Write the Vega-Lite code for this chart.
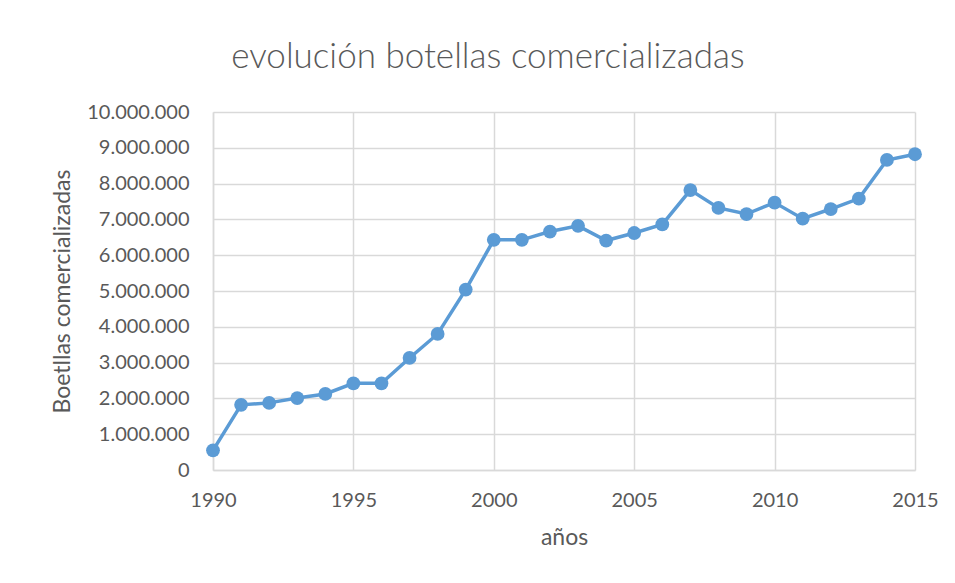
{
  "$schema": "https://vega.github.io/schema/vega-lite/v6.json",
  "width": 702,
  "height": 358,
  "autosize": {"type": "none"},
  "padding": {"left": 213, "top": 112, "right": 40, "bottom": 113},
  "background": "white",
  "config": {
    "locale": {"number": {"decimal": ",", "thousands": ".", "grouping": [3], "currency": ["", "€"]}},
    "view": {"stroke": null},
    "font": "Lato"
  },
  "title": {
    "text": "evolución botellas comercializadas",
    "font": "Lato",
    "fontSize": 35,
    "fontWeight": 300,
    "color": "#595959",
    "anchor": "middle",
    "dx": -76,
    "offset": 27
  },
  "data": {
    "values": [
      {"year": 1990, "v": 550000},
      {"year": 1991, "v": 1820000},
      {"year": 1992, "v": 1875000},
      {"year": 1993, "v": 2010000},
      {"year": 1994, "v": 2125000},
      {"year": 1995, "v": 2420000},
      {"year": 1996, "v": 2420000},
      {"year": 1997, "v": 3130000},
      {"year": 1998, "v": 3800000},
      {"year": 1999, "v": 5040000},
      {"year": 2000, "v": 6430000},
      {"year": 2001, "v": 6430000},
      {"year": 2002, "v": 6660000},
      {"year": 2003, "v": 6820000},
      {"year": 2004, "v": 6410000},
      {"year": 2005, "v": 6620000},
      {"year": 2006, "v": 6860000},
      {"year": 2007, "v": 7820000},
      {"year": 2008, "v": 7320000},
      {"year": 2009, "v": 7150000},
      {"year": 2010, "v": 7470000},
      {"year": 2011, "v": 7020000},
      {"year": 2012, "v": 7290000},
      {"year": 2013, "v": 7580000},
      {"year": 2014, "v": 8660000},
      {"year": 2015, "v": 8820000}
    ]
  },
  "encoding": {
    "x": {
      "field": "year",
      "type": "quantitative",
      "scale": {"domain": [1990, 2015], "nice": false, "zero": false},
      "axis": {
        "values": [1990, 1995, 2000, 2005, 2010, 2015],
        "format": "d",
        "title": "años",
        "titleFont": "Lato",
        "titleFontSize": 23,
        "titleFontWeight": "normal",
        "titleColor": "#595959",
        "titlePadding": 16,
        "labelFont": "Lato",
        "labelFontSize": 20,
        "labelColor": "#595959",
        "labelPadding": 20,
        "labelFlush": false,
        "ticks": false,
        "domainColor": "#d9d9d9",
        "domainWidth": 1.5,
        "gridColor": "#d9d9d9",
        "gridWidth": 1.5
      }
    },
    "y": {
      "field": "v",
      "type": "quantitative",
      "scale": {"domain": [0, 10000000], "nice": false},
      "axis": {
        "values": [0, 1000000, 2000000, 3000000, 4000000, 5000000, 6000000, 7000000, 8000000, 9000000, 10000000],
        "format": ",d",
        "title": "Boetllas comercializadas",
        "titleFont": "Lato",
        "titleFontSize": 23,
        "titleFontWeight": "normal",
        "titleColor": "#595959",
        "titlePadding": 12,
        "labelFont": "Lato",
        "labelFontSize": 20,
        "labelColor": "#595959",
        "labelPadding": 24,
        "ticks": false,
        "domainColor": "#d9d9d9",
        "domainWidth": 1.5,
        "gridColor": "#d9d9d9",
        "gridWidth": 1.5
      }
    }
  },
  "layer": [
    {"mark": {"type": "line", "color": "#5b9bd5", "strokeWidth": 3.5}},
    {"mark": {"type": "point", "filled": true, "color": "#5b9bd5", "size": 190, "opacity": 1}}
  ]
}
